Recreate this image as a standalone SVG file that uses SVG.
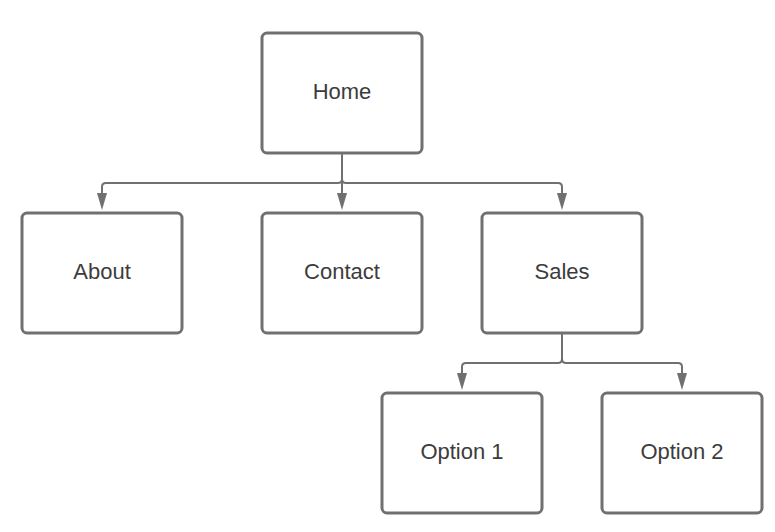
<svg xmlns="http://www.w3.org/2000/svg" width="775" height="532" viewBox="0 0 775 532">
<style>
.box{fill:#fff;stroke:#707070;stroke-width:3}
.lbl{font-family:"Liberation Sans",Arial,sans-serif;font-size:22px;fill:#3c3c3c;text-anchor:middle;dominant-baseline:central}
.con{fill:none;stroke:#707070;stroke-width:2}
.ah{fill:#707070}
</style>
<rect width="775" height="532" fill="#fff"/>
<g id="connectors">
<path class="con" d="M342 153 V179 Q342 183 338 183 H106 Q102 183 102 187 V193"/>
<path class="ah" d="M97 193 L107 193 L102 210 Z"/>
<path class="con" d="M342 153 V193"/>
<path class="ah" d="M337 193 L347 193 L342 210 Z"/>
<path class="con" d="M342 153 V179 Q342 183 346 183 H558 Q562 183 562 187 V193"/>
<path class="ah" d="M557 193 L567 193 L562 210 Z"/>
<path class="con" d="M562 333 V359 Q562 363 558 363 H466 Q462 363 462 367 V373"/>
<path class="ah" d="M457 373 L467 373 L462 390 Z"/>
<path class="con" d="M562 333 V359 Q562 363 566 363 H678 Q682 363 682 367 V373"/>
<path class="ah" d="M677 373 L687 373 L682 390 Z"/>
</g>
<g id="home"><rect class="box" x="262" y="33" width="160" height="120" rx="5"/><text class="lbl" x="342" y="91">Home</text></g>
<g id="about"><rect class="box" x="22" y="213" width="160" height="120" rx="5"/><text class="lbl" x="102" y="271">About</text></g>
<g id="contact"><rect class="box" x="262" y="213" width="160" height="120" rx="5"/><text class="lbl" x="342" y="271">Contact</text></g>
<g id="sales"><rect class="box" x="482" y="213" width="160" height="120" rx="5"/><text class="lbl" x="562" y="271">Sales</text></g>
<g id="option1"><rect class="box" x="382" y="393" width="160" height="120" rx="5"/><text class="lbl" x="462" y="451">Option 1</text></g>
<g id="option2"><rect class="box" x="602" y="393" width="160" height="120" rx="5"/><text class="lbl" x="682" y="451">Option 2</text></g>
</svg>
